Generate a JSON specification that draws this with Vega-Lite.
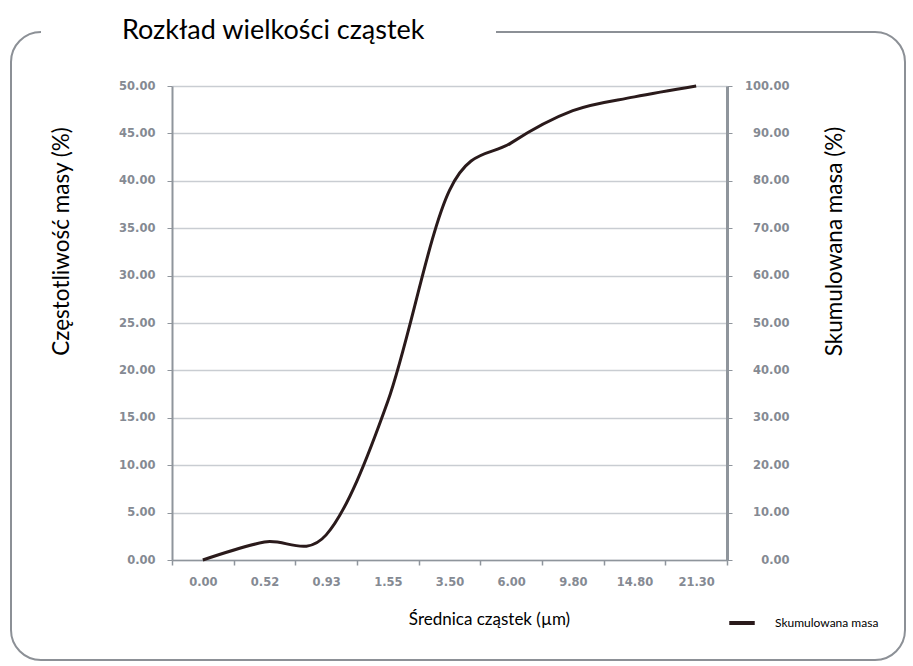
{
  "$schema": "https://vega.github.io/schema/vega-lite/v6.json",
  "width": 894,
  "height": 628,
  "autosize": "none",
  "padding": {"left": 11, "top": 32, "right": 8, "bottom": 6},
  "background": "white",
  "title": {
    "text": "Rozkład wielkości cząstek",
    "anchor": "start",
    "frame": "group",
    "orient": "top",
    "offset": 0,
    "dx": 111,
    "dy": 34,
    "baseline": "alphabetic",
    "font": "Lato",
    "fontSize": 27,
    "fontWeight": "normal",
    "color": "#000000"
  },
  "config": {
    "view": {
      "stroke": "#8c9096",
      "strokeWidth": 2,
      "cornerRadius": 30,
      "strokeDash": [0, 455, 4000]
    },
    "axis": {
      "labelFont": "DejaVu Sans",
      "labelFontSize": 11.5,
      "labelFontWeight": "bold",
      "labelColor": "#858a93",
      "titleFont": "Lato",
      "titleFontWeight": "normal",
      "titleColor": "#000000",
      "domainColor": "#8f959c",
      "tickColor": "#8f959c"
    }
  },
  "data": {
    "values": [
      {"d": "0.00", "cum": 0},
      {"d": "0.52", "cum": 3.8},
      {"d": "0.93", "cum": 5.3},
      {"d": "1.55", "cum": 33.5},
      {"d": "3.50", "cum": 78},
      {"d": "6.00", "cum": 88},
      {"d": "9.80", "cum": 94.8},
      {"d": "14.80", "cum": 97.7},
      {"d": "21.30", "cum": 100}
    ]
  },
  "encoding": {
    "x": {
      "field": "d",
      "type": "ordinal",
      "sort": null,
      "scale": {"type": "band", "range": [161, 716], "paddingInner": 0, "paddingOuter": 0},
      "axis": {
        "orient": "bottom",
        "offset": -100,
        "title": "Średnica cząstek (µm)",
        "titleFontSize": 17,
        "titleX": 478,
        "titleY": 59,
        "titleBaseline": "middle",
        "titleAlign": "center",
        "labelAngle": 0,
        "tickBand": "extent",
        "tickSize": 5,
        "labelPadding": 11,
        "domainWidth": 1.5,
        "tickWidth": 1.5,
        "grid": false
      }
    }
  },
  "layer": [
    {
      "mark": {"type": "point", "opacity": 0},
      "encoding": {
        "y": {
          "datum": 0,
          "type": "quantitative",
          "scale": {"domain": [0, 50], "range": [528, 54], "nice": false, "zero": true},
          "axis": {
            "orient": "left",
            "offset": -161,
            "values": [0, 5, 10, 15, 20, 25, 30, 35, 40, 45, 50],
            "format": ".2f",
            "title": "Częstotliwość masy (%)",
            "titleFontSize": 22.5,
            "titleX": -111,
            "titleY": 209,
            "titleAngle": -90,
            "titleAlign": "center",
            "titleBaseline": "middle",
            "grid": true,
            "gridColor": "#c9cdd2",
            "gridWidth": 1.5,
            "domainWidth": 2,
            "tickSize": 5,
            "tickWidth": 1,
            "labelPadding": 12
          }
        }
      }
    },
    {
      "mark": {"type": "line", "interpolate": "cardinal", "strokeWidth": 3, "clip": false},
      "encoding": {
        "y": {
          "field": "cum",
          "type": "quantitative",
          "scale": {"domain": [0, 100], "range": [528, 54], "nice": false},
          "axis": {
            "orient": "right",
            "offset": -178,
            "values": [0, 10, 20, 30, 40, 50, 60, 70, 80, 90, 100],
            "format": ".2f",
            "title": "Skumulowana masa (%)",
            "titleFontSize": 22.5,
            "titleX": 107,
            "titleY": 209,
            "titleAngle": 270,
            "titleAlign": "center",
            "titleBaseline": "middle",
            "grid": false,
            "domainWidth": 3,
            "tickSize": 5,
            "tickWidth": 1,
            "labelAlign": "right",
            "labelPadding": 57
          }
        },
        "color": {
          "datum": "Skumulowana masa",
          "type": "nominal",
          "scale": {"range": ["#2a1a1b"]},
          "legend": {
            "title": null,
            "orient": "none",
            "legendX": 716,
            "legendY": 576,
            "symbolType": "stroke",
            "symbolSize": 650,
            "symbolStrokeWidth": 4,
            "labelFont": "Lato",
            "labelFontSize": 12,
            "labelColor": "#000000",
            "labelOffset": 18
          }
        }
      }
    }
  ],
  "resolve": {"scale": {"y": "independent"}}
}
